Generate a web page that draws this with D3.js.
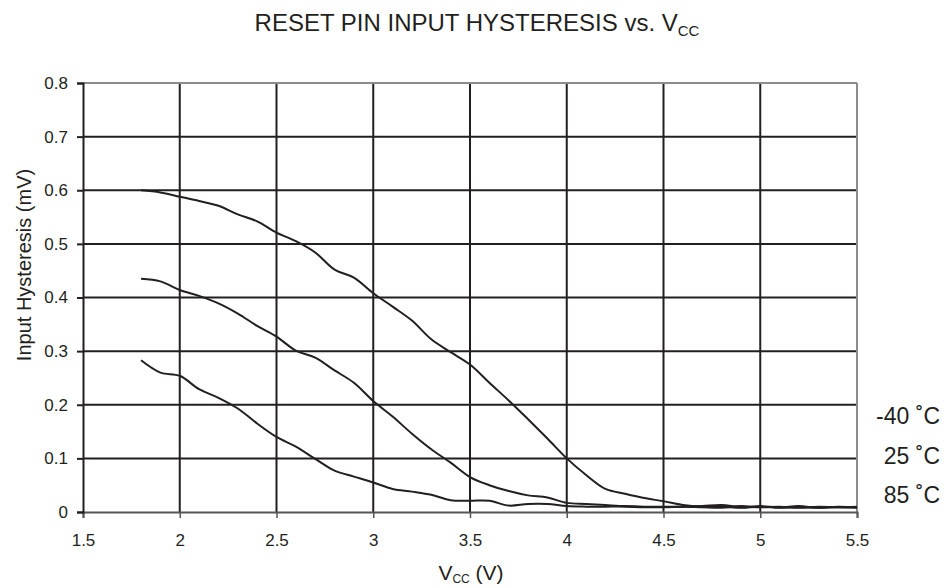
<!DOCTYPE html>
<html>
<head>
<meta charset="utf-8">
<script src="https://cdn.jsdelivr.net/npm/d3@7"></script>
<style>
  body { margin: 0; background: #fff; }
  text { font-family: "Liberation Sans", Arial, sans-serif; fill: #231f20; }
</style>
</head>
<body>
<script>
// supply voltage (V)
var vcc = [1.8, 1.9, 2.0, 2.1, 2.2, 2.3, 2.4, 2.5, 2.6, 2.7, 2.8, 2.9, 3.0, 3.1, 3.2, 3.3, 3.4, 3.5, 3.6, 3.7,
           3.8, 3.9, 4.0, 4.1, 4.2, 4.3, 4.4, 4.5, 4.6, 4.7, 4.8, 4.9, 5.0, 5.1, 5.2, 5.3, 5.4, 5.5];

// hysteresis (mV)
var tMinus40 = [0.600, 0.596, 0.588, 0.580, 0.571, 0.555, 0.542, 0.521, 0.505, 0.484, 0.452, 0.437, 0.408, 0.383,
                0.357, 0.322, 0.298, 0.275, 0.241, 0.208, 0.173, 0.137, 0.100, 0.069, 0.043, 0.034, 0.026, 0.020,
                0.013, 0.010, 0.010, 0.008, 0.010, 0.008, 0.009, 0.008, 0.009, 0.008];
var t25 = [0.435, 0.430, 0.414, 0.403, 0.389, 0.370, 0.347, 0.327, 0.301, 0.288, 0.264, 0.241, 0.207, 0.178,
           0.146, 0.117, 0.092, 0.065, 0.050, 0.039, 0.031, 0.027, 0.017, 0.015, 0.013, 0.011, 0.010, 0.010,
           0.010, 0.011, 0.013, 0.009, 0.011, 0.009, 0.011, 0.008, 0.010, 0.009];
var t85 = [0.283, 0.260, 0.254, 0.229, 0.213, 0.193, 0.165, 0.140, 0.122, 0.099, 0.077, 0.066, 0.055, 0.043,
           0.038, 0.032, 0.022, 0.021, 0.021, 0.012, 0.015, 0.015, 0.011, 0.010, 0.010, 0.010, 0.009, 0.009,
           0.010, 0.009, 0.008, 0.011, 0.009, 0.010, 0.008, 0.010, 0.009, 0.010];

var seriesNames = ["-40 \u02DAC", "25 \u02DAC", "85 \u02DAC"];
var xTicks = [1.5, 2, 2.5, 3, 3.5, 4, 4.5, 5, 5.5];
var yTicks = [0, 0.1, 0.2, 0.3, 0.4, 0.5, 0.6, 0.7, 0.8];

var W = 952, H = 588;
var margin = { left: 83, right: 857, top: 83, bottom: 512 };
var ink = "#231f20";

var svg = d3.select("body").append("svg")
    .attr("width", W)
    .attr("height", H);

var x = d3.scaleLinear().domain([1.5, 5.5]).range([margin.left, margin.right]);
var y = d3.scaleLinear().domain([0, 0.8]).range([margin.bottom, margin.top]);

// gridlines
svg.append("g")
    .selectAll("line")
    .data(xTicks.slice(1, -1))
    .enter().append("line")
    .attr("x1", function(d) { return x(d); })
    .attr("x2", function(d) { return x(d); })
    .attr("y1", margin.top)
    .attr("y2", margin.bottom)
    .style("stroke", ink)
    .style("stroke-width", 2);

svg.append("g")
    .selectAll("line")
    .data(yTicks.slice(1, -1))
    .enter().append("line")
    .attr("x1", margin.left)
    .attr("x2", margin.right)
    .attr("y1", function(d) { return y(d); })
    .attr("y2", function(d) { return y(d); })
    .style("stroke", ink)
    .style("stroke-width", 2);

// frame: top and right lighter
svg.append("line")
    .attr("x1", margin.left).attr("x2", margin.right)
    .attr("y1", margin.top).attr("y2", margin.top)
    .style("stroke", "#8c8c8c").style("stroke-width", 2);
svg.append("line")
    .attr("x1", margin.right).attr("x2", margin.right)
    .attr("y1", margin.top).attr("y2", margin.bottom)
    .style("stroke", "#8c8c8c").style("stroke-width", 2);

// x axis
var xAxis = d3.axisBottom(x)
    .tickValues(xTicks)
    .tickFormat(function(d) { return String(d); })
    .tickSize(6)
    .tickPadding(16);

var gx = svg.append("g")
    .attr("transform", "translate(0," + margin.bottom + ")")
    .call(xAxis);
gx.attr("font-size", 17).attr("font-family", "Liberation Sans, Arial, sans-serif");
gx.select(".domain").style("stroke", "#555").style("stroke-width", 2);
gx.selectAll(".tick line").style("stroke", "#555").style("stroke-width", 1.5);
gx.selectAll(".tick text").style("fill", ink);

// y axis
var yAxis = d3.axisLeft(y)
    .tickValues(yTicks)
    .tickFormat(function(d) { return String(d); })
    .tickSize(6)
    .tickPadding(9);

var gy = svg.append("g")
    .attr("transform", "translate(" + margin.left + ",0)")
    .call(yAxis);
gy.attr("font-size", 17).attr("font-family", "Liberation Sans, Arial, sans-serif");
gy.select(".domain").style("stroke", ink).style("stroke-width", 2);
gy.selectAll(".tick line").style("stroke", ink).style("stroke-width", 2);
gy.selectAll(".tick text").style("fill", ink);

// curves
var line = d3.line()
    .x(function(d) { return x(d[0]); })
    .y(function(d) { return y(d[1]); })
    .curve(d3.curveCatmullRom);

[tMinus40, t25, t85].forEach(function(vals) {
    svg.append("path")
        .datum(vcc.map(function(v, i) { return [v, vals[i]]; }))
        .attr("d", line)
        .style("fill", "none")
        .style("stroke", ink)
        .style("stroke-width", 2);
});

// legend at the right
seriesNames.forEach(function(name, i) {
    svg.append("text")
        .attr("x", 940)
        .attr("y", 424 + i * 39.5)
        .attr("text-anchor", "end")
        .style("font-size", "23px")
        .text(name);
});

// title
var title = svg.append("text")
    .attr("x", 477)
    .attr("y", 31)
    .attr("text-anchor", "middle")
    .style("font-size", "24px");
title.append("tspan").text("RESET PIN INPUT HYSTERESIS vs. V");
title.append("tspan").attr("dy", 5).style("font-size", "15px").text("CC");

// y label
svg.append("text")
    .attr("transform", "translate(31,265) rotate(-90)")
    .attr("text-anchor", "middle")
    .style("font-size", "20px")
    .text("Input Hysteresis (mV)");

// x label
var xl = svg.append("text")
    .attr("x", 471)
    .attr("y", 580)
    .attr("text-anchor", "middle")
    .style("font-size", "21px");
xl.append("tspan").text("V");
xl.append("tspan").attr("dy", 3).style("font-size", "12px").text("CC");
xl.append("tspan").attr("dy", -3).text(" (V)");
</script>
</body>
</html>
